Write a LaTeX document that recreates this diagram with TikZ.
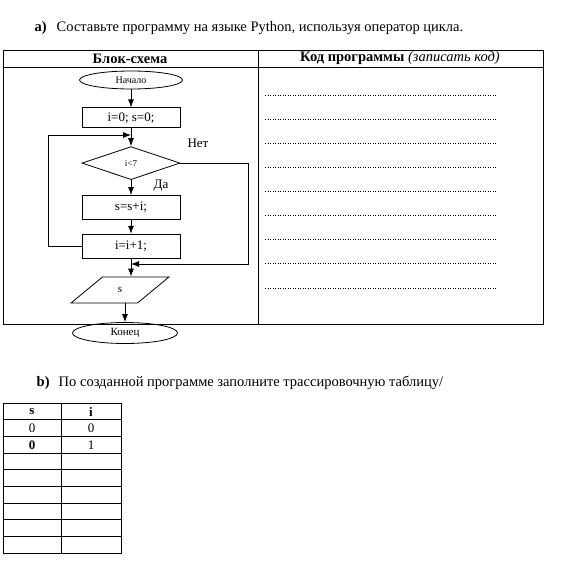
\documentclass[tikz,border=0pt]{standalone}
\usepackage{fontspec}
\setmainfont{Liberation Serif}
\usetikzlibrary{arrows.meta, positioning, shapes.geometric}

\begin{document}
\begin{tikzpicture}[
  x=1pt, y=-1pt,
  node distance=18pt,
  term/.style={draw, ellipse, minimum width=103pt, minimum height=18pt, inner sep=0pt, font=\fontsize{10}{11}\selectfont},
  box/.style={draw, minimum width=98pt, minimum height=24pt, inner sep=0pt, font=\fontsize{13}{14}\selectfont},
  cond/.style={draw, diamond, aspect=3, minimum width=98pt, minimum height=33pt, inner sep=0pt, font=\fontsize{9}{10}\selectfont},
  io/.style={draw, trapezium, trapezium left angle=54, trapezium right angle=126, trapezium stretches=true, minimum width=98pt, minimum height=26pt, inner sep=0pt, font=\fontsize{11}{12}\selectfont},
  lbl/.style={font=\fontsize{13}{14}\selectfont},
  head/.style={font=\fontsize{14.5}{16}\selectfont},
  cell/.style={font=\fontsize{13}{15}\selectfont},
  arr/.style={-{Latex[length=8pt,width=6pt]}, line width=0.8pt},
  line width=0.8pt
]
\useasboundingbox (0,0) rectangle (576,568);

% part a
\node[head, anchor=base west] (qa) at (31,31) {\textbf{a)}};
\node[head, anchor=base west] (qatext) at (53,31) {Составьте программу на языке Python, используя оператор цикла.};

% outer table
\draw (3,50) rectangle (543,324);
\draw (3,67) -- (543,67);
\draw (258,50) -- (258,324);
\node[head] (hflow) at (130,58.5) {\textbf{Блок-схема}};
\node[head] (hcode) at (400,58.5) {\textbf{Код программы} \textit{(записать код)}};

% flowchart
\node[term] (start) at (131,80) {Начало};
\node[box, minimum height=20pt, below=of start] (init) {i=0; s=0;};
\node[cond, below=of init] (check) {i<7};
\node[box, below=15pt of check] (sum) {s=s+i;};
\node[box, below=14pt of sum] (inc) {i=i+1;};
\node[io] (out) at (120,290) {s};
\node[term, minimum width=105pt, minimum height=21pt, font=\fontsize{11}{12}\selectfont] (stop) at (125,333) {Конец};

\coordinate (back) at (48,135);
\coordinate (join) at (131,135);
\coordinate (side) at (248,264);
\coordinate (merge) at (131,264);

\node[lbl] (no) at (198,143) {Нет};
\node[lbl] (yes) at (161,186) {Да};

\draw[arr] (start) -- (init);
\draw[arr] (init) -- (check);
\draw[arr] (check) -- (sum);
\draw[arr] (sum) -- (inc);
\draw[arr] (inc.west) -| (back) -- (join);
\draw[arr] (check.east) -| (side) -- (merge);
\draw[arr] (inc.south) -- (inc.south |- out.north);
\draw[arr] (stop.north |- out.south) -- (stop.north);

% lines for code
\foreach \k in {0,...,8}
  \draw[dotted, line width=0.5pt] (265,95+24.1*\k) -- (497,95+24.1*\k);

% part b
\node[head, anchor=base west] (qb) at (33,386) {\textbf{b)}};
\node[head, anchor=base west] (qbtext) at (55,386) {По созданной программе заполните трассировочную таблицу/};

\draw (3,403) rectangle (121,553);
\draw (61,403) -- (61,553);
\foreach \k in {1,...,8}
  \draw (3,403+16.67*\k) -- (121,403+16.67*\k);
\node[cell] (hs) at (32,411.5) {\textbf{s}};
\node[cell] (hi) at (91,411.5) {\textbf{i}};
\node[cell] (s1) at (32,428.5) {0};
\node[cell] (i1) at (91,428.5) {0};
\node[cell] (s2) at (32,445) {\textbf{0}};
\node[cell] (i2) at (91,445) {1};

\end{tikzpicture}
\end{document}
